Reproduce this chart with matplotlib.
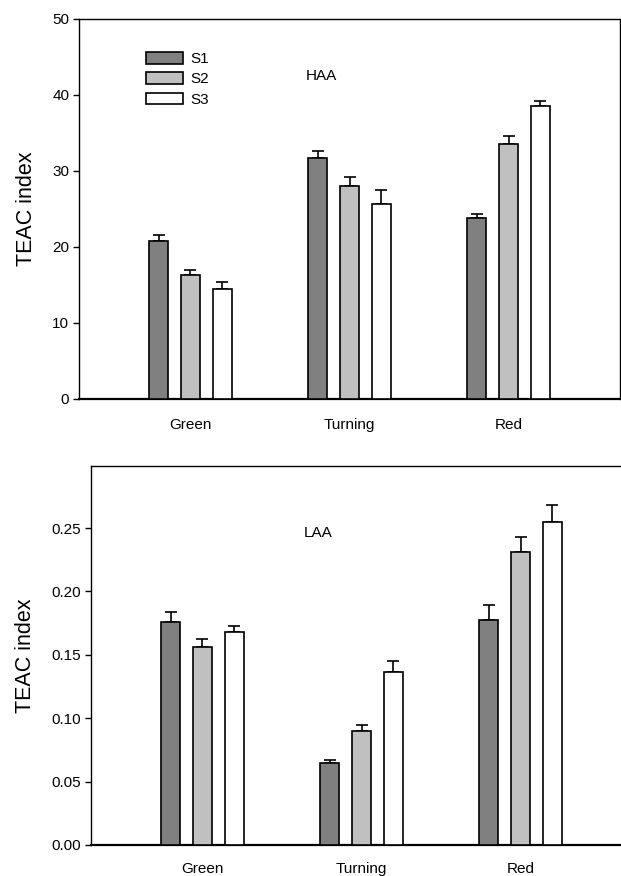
import numpy as np
import matplotlib
matplotlib.use("Agg")
import matplotlib.pyplot as plt

plt.rcParams["font.family"] = ["Liberation Sans", "DejaVu Sans"]

stages = ["Green", "Turning", "Red"]
series = ["S1", "S2", "S3"]
colors = ["#808080", "#c0c0c0", "#ffffff"]

# HAA (top panel)
haa_mean = {
    "S1": [20.85, 31.7, 23.8],
    "S2": [16.3, 28.05, 33.55],
    "S3": [14.5, 25.6, 38.5],
}
haa_err = {
    "S1": [0.75, 0.95, 0.55],
    "S2": [0.7, 1.2, 1.1],
    "S3": [0.85, 1.85, 0.65],
}

# LAA (bottom panel)
laa_mean = {
    "S1": [0.176, 0.0646, 0.1775],
    "S2": [0.1563, 0.0898, 0.2311],
    "S3": [0.168, 0.1368, 0.2547],
}
laa_err = {
    "S1": [0.0076, 0.0026, 0.0115],
    "S2": [0.006, 0.0047, 0.0118],
    "S3": [0.0048, 0.0087, 0.0137],
}

W, H = 621, 876
fig = plt.figure(figsize=(W / 100, H / 100), dpi=100)


def draw_panel(ax, means, errs, ylim, yticks, ylabels, tag, tag_xy, xpad):
    x = np.arange(len(stages))
    width = 0.12
    step = 0.2
    bars = []
    for i, s in enumerate(series):
        pos = x + (i - 1) * step
        b = ax.bar(pos, means[s], width, color=colors[i], edgecolor="black",
                   linewidth=1.2, label=s, zorder=3)
        ax.errorbar(pos, means[s], yerr=[np.zeros(3), errs[s]], fmt="none",
                    ecolor="black", elinewidth=1.2, capsize=4, capthick=1.2,
                    zorder=2)
        bars.append(b)
    ax.set_xlim(-0.7, 2.7)
    ax.set_ylim(*ylim)
    ax.set_yticks(yticks)
    ax.set_yticklabels(ylabels, fontsize=11)
    ax.set_xticks(x)
    ax.set_xticklabels(stages, fontsize=11)
    ax.tick_params(axis="x", length=0, pad=xpad)
    ax.tick_params(axis="y", direction="out", length=4, width=1, pad=3)
    for sp in ax.spines.values():
        sp.set_linewidth(1.0)
    ax.spines["bottom"].set_linewidth(1.6)
    ax.set_ylabel("TEAC index", fontsize=15.5, labelpad=11)
    ax.text(tag_xy[0], tag_xy[1], tag, transform=ax.transAxes, fontsize=11,
            ha="left", va="center")
    return bars


ax1 = fig.add_axes([79 / W, 1 - 399 / H, 541 / W, 380 / H])
bars = draw_panel(ax1, haa_mean, haa_err, (0, 50), np.arange(0, 51, 10),
                  [str(v) for v in range(0, 51, 10)], "HAA",
                  ((306 - 79) / 541, (399 - 76) / 380), 14)
ax1.legend(handles=bars, labels=series, loc="upper left",
           bbox_to_anchor=((146 - 79) / 541, (399 - 52) / 380),
           frameon=False, fontsize=11, handlelength=2.4, handleheight=0.8,
           labelspacing=0.4, handletextpad=0.5, borderaxespad=0, borderpad=0)

ax2 = fig.add_axes([91 / W, 1 - 845 / H, 541 / W, 379 / H])
lt = [0.0, 0.05, 0.10, 0.15, 0.20, 0.25]
draw_panel(ax2, laa_mean, laa_err, (0, 0.299), lt, ["%.2f" % v for v in lt],
           "LAA", ((304 - 91) / 541, (845 - 533) / 379), 12)

fig.savefig("out.png", dpi=100)
